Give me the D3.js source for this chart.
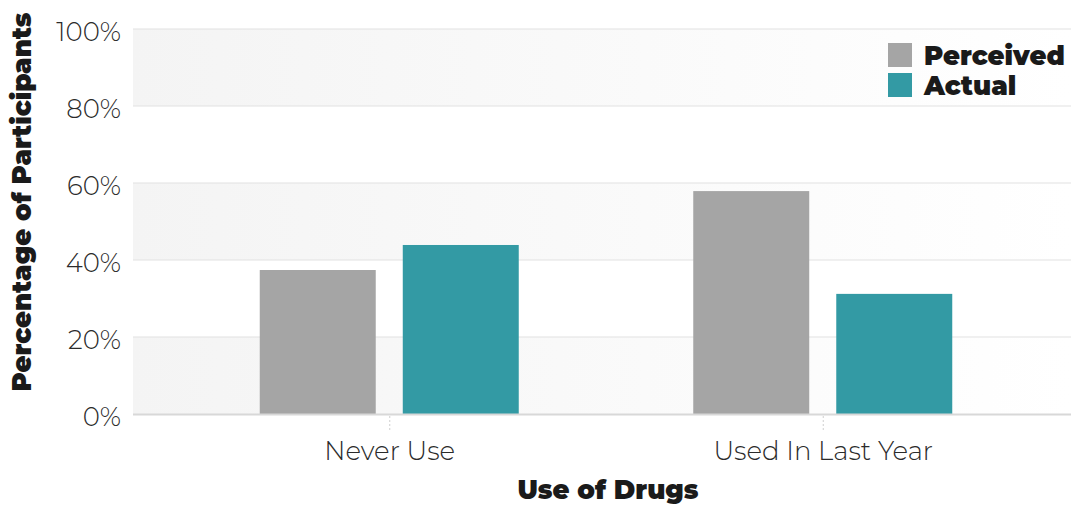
<!DOCTYPE html>
<html>
<head>
<meta charset="utf-8">
<script src="https://cdn.jsdelivr.net/npm/d3@7"></script>
<style>
html,body{margin:0;padding:0;background:#fff;}
svg{display:block;}
</style>
</head>
<body>
<svg id="chart" width="1071" height="506"></svg>
<script>
const categories = ["Never Use", "Used In Last Year"];
const seriesNames = ["Perceived", "Actual"];
const perceived = [37.4, 57.9];
const actual = [43.9, 31.2];
const yTicks = [0, 20, 40, 60, 80, 100];
const colors = ["#a5a5a5", "#339aa4"];

const W = 1071, H = 506;
const plot = {left: 133, right: 1071, top: 29, bottom: 414};
const svg = d3.select("#chart");
const font = "Montserrat, Inter, 'Open Sans', sans-serif";

const y = d3.scaleLinear().domain([0, 100]).range([plot.bottom, plot.top]);
const x = d3.scaleBand().domain(categories).range([173, 1040]).paddingInner(0).paddingOuter(0);
const inner = d3.scaleBand().domain(seriesNames).range([-130, 129]).paddingInner(0.189).paddingOuter(0);

// background gradient bands
const defs = svg.append("defs");
const grad = defs.append("linearGradient").attr("id", "bandGrad").attr("x1", "0").attr("x2", "1").attr("y1", "0").attr("y2", "0");
grad.append("stop").attr("offset", "0%").attr("stop-color", "#f4f4f4");
grad.append("stop").attr("offset", "100%").attr("stop-color", "#ffffff");
const bands = [[80, 100], [40, 60], [0, 20]];
svg.append("g").selectAll("rect").data(bands).join("rect")
  .attr("x", plot.left).attr("width", plot.right - plot.left)
  .attr("y", d => y(d[1])).attr("height", d => y(d[0]) - y(d[1]))
  .attr("fill", "url(#bandGrad)");

// gridlines
svg.append("g").selectAll("line").data(yTicks.filter(t => t > 0)).join("line")
  .attr("x1", plot.left).attr("x2", plot.right)
  .attr("y1", d => y(d)).attr("y2", d => y(d))
  .attr("stroke", "#e2e2e2").attr("stroke-width", 1.2);

// y axis labels
const yAxis = d3.axisLeft(y).tickValues(yTicks).tickFormat(d => d + "%").tickSize(0).tickPadding(12);
const yg = svg.append("g").attr("transform", `translate(${plot.left},0)`).call(yAxis);
yg.select(".domain").remove();
yg.selectAll("text").attr("font-family", font).attr("font-weight", 300)
  .attr("font-size", 26).attr("fill", "#2b2b2b").attr("dy", "0.44em");

// bars
const data = categories.map((c, i) => ({cat: c, vals: [perceived[i], actual[i]]}));
const gBars = svg.append("g");
data.forEach(d => {
  seriesNames.forEach((s, j) => {
    gBars.append("rect")
      .attr("x", x(d.cat) + x.bandwidth() / 2 + inner(s))
      .attr("width", inner.bandwidth())
      .attr("y", y(d.vals[j]))
      .attr("height", y(0) - y(d.vals[j]))
      .attr("fill", colors[j]);
  });
});

// x axis
const xAxis = d3.axisBottom(x).tickSize(0).tickPadding(28);
const xg = svg.append("g").attr("transform", `translate(0,${plot.bottom})`).call(xAxis);
xg.select(".domain").remove();
xg.selectAll("text").attr("font-family", font).attr("font-weight", 300)
  .attr("font-size", 26).attr("fill", "#2b2b2b");
xg.selectAll(".tick").append("line")
  .attr("y1", 2).attr("y2", 16).attr("stroke", "#cfcfcf").attr("stroke-dasharray", "2,2");
svg.append("line").attr("x1", plot.left).attr("x2", plot.right)
  .attr("y1", plot.bottom + 0.5).attr("y2", plot.bottom + 0.5)
  .attr("stroke", "#d8d8d8").attr("stroke-width", 2);

// axis titles
svg.append("text").attr("x", 608).attr("y", 499).attr("text-anchor", "middle")
  .attr("font-family", font).attr("font-weight", 900).attr("font-size", 26).attr("fill", "#1a1a1a")
  .text("Use of Drugs");
svg.append("text").attr("transform", "translate(31,202) rotate(-90)").attr("text-anchor", "middle")
  .attr("font-family", font).attr("font-weight", 900).attr("font-size", 26).attr("fill", "#1a1a1a")
  .text("Percentage of Participants");

// legend
const lg = svg.append("g").attr("transform", "translate(888,43)");
seriesNames.forEach((s, i) => {
  lg.append("rect").attr("x", 0).attr("y", i * 30).attr("width", 24).attr("height", 24).attr("fill", colors[i]);
  lg.append("text").attr("x", 36).attr("y", i * 30 + 22)
    .attr("font-family", font).attr("font-weight", 900).attr("font-size", 26).attr("fill", "#1a1a1a")
    .text(s);
});
</script>
</body>
</html>
